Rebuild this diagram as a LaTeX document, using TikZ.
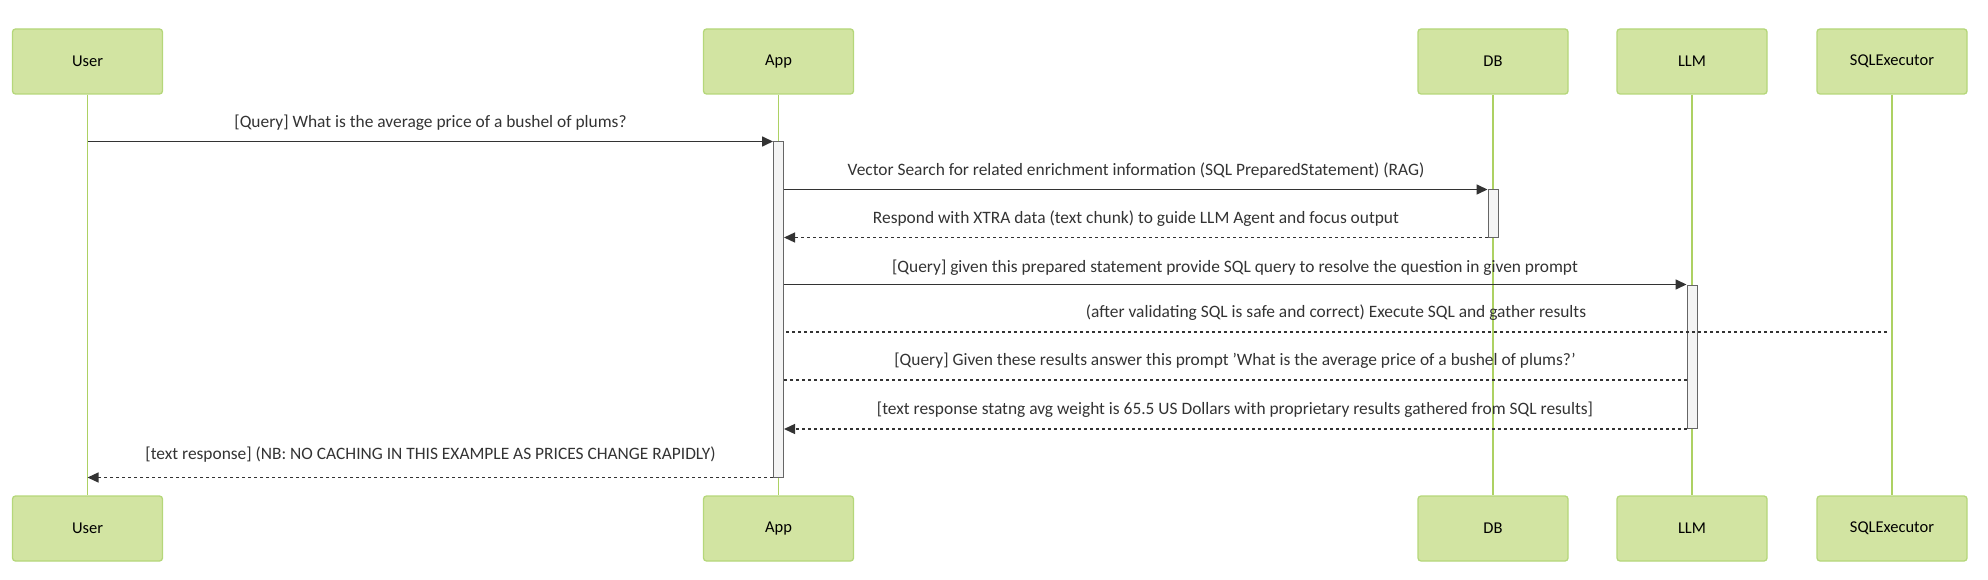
\documentclass[tikz,border=0pt]{standalone}
\usepackage{fontspec}
\setmainfont{Carlito}
\usetikzlibrary{arrows.meta,calc}
\definecolor{actfill}{HTML}{D2E4A2}
\definecolor{actdraw}{HTML}{B5D77A}
\definecolor{lifeln}{HTML}{ADD163}
\definecolor{msgcol}{HTML}{333333}
\definecolor{actvfill}{HTML}{F4F4F4}
\definecolor{actvdraw}{HTML}{666666}
\tikzset{
  actor/.style={draw=actdraw, fill=actfill, line width=1.3pt, rounded corners=3pt,
    minimum width=150pt, minimum height=65pt, inner sep=0pt, font=\fontsize{16.5}{19}\selectfont, text=black},
  lifeline/.style={draw=lifeln, line width=1.8pt},
  activ/.style={draw=actvdraw, fill=actvfill, line width=1pt, minimum width=10pt, inner sep=0pt},
  msgline/.style={draw=msgcol, line width=1.6pt},
  dotline/.style={draw=msgcol, line width=1.3pt, dash pattern=on 3pt off 3pt},
  tip/.style={-{Triangle[length=11pt,width=10pt]}},
  msg/.style={text=msgcol, font=\fontsize{17.4}{20}\selectfont, inner sep=0pt}
}
\begin{document}
\begin{tikzpicture}[x=1pt,y=-1pt]
\useasboundingbox (0,0) rectangle (1988,580);
% actors
\node[actor] (uT) at (87.5,61.5) {User};
\node[actor] (aT) at (778.5,61.5) {App};
\node[actor] (dT) at (1493,61.5) {DB};
\node[actor] (lT) at (1692,61.5) {LLM};
\node[actor] (sT) at (1892,61.5) {SQLExecutor};
\node[actor] (uB) at (87.5,528.5) {User};
\node[actor] (aB) at (778.5,528.5) {App};
\node[actor] (dB) at (1493,528.5) {DB};
\node[actor] (lB) at (1692,528.5) {LLM};
\node[actor] (sB) at (1892,528.5) {SQLExecutor};
% lifelines
\draw[lifeline] (uT.south) -- (uB.north);
\draw[lifeline] (aT.south) -- (aB.north);
\draw[lifeline] (dT.south) -- (dB.north);
\draw[lifeline] (lT.south) -- (lB.north);
\draw[lifeline] (sT.south) -- (sB.north);
% activations
\node[activ, minimum height=335pt] (actA) at (778.5,309.5) {};
\node[activ, minimum height=47pt] (actD) at (1493,213.5) {};
\node[activ, minimum height=143.5pt] (actL) at (1692,356.75) {};
% messages
\draw[msgline,tip] (uT.south |- actA.north west) -- (actA.north west);
\node[msg] (l1) at (430.5,123) {[Query] What is the average price of a bushel of plums?};
\draw[msgline,tip] (actA.east |- actD.north west) -- (actD.north west);
\node[msg] (l2) at (1136,171) {Vector Search for related enrichment information (SQL PreparedStatement) (RAG)};
\draw[dotline,tip] (actD.south west) -- (actA.east |- actD.south west);
\node[msg] (l3) at (1136,219) {Respond with XTRA data (text chunk) to guide LLM Agent and focus output};
\draw[msgline,tip] (actA.east |- actL.north west) -- (actL.north west);
\node[msg] (l4) at (1235,268) {[Query] given this prepared statement provide SQL query to resolve the question in given prompt};
\coordinate (m5e) at (1887,332);
\draw[dotline] (m5e) -- (actA.east |- m5e);
\node[msg] (l5) at (1336,313) {(after validating SQL is safe and correct) Execute SQL and gather results};
\coordinate (m6e) at (1687,380);
\draw[dotline] (m6e) -- (actA.east |- m6e);
\node[msg] (l6) at (1235,361) {[Query] Given these results answer this prompt 'What is the average price of a bushel of plums?'};
\draw[dotline,tip] (actL.south west) -- (actA.east |- actL.south west);
\node[msg] (l7) at (1235,409.5) {[text response statng avg weight is 65.5 US Dollars with proprietary results gathered from SQL results]};
\draw[dotline,tip] (actA.south west) -- (uT.south |- actA.south west);
\node[msg] (l8) at (430.5,455) {[text response] (NB: NO CACHING IN THIS EXAMPLE AS PRICES CHANGE RAPIDLY)};
\end{tikzpicture}
\end{document}
